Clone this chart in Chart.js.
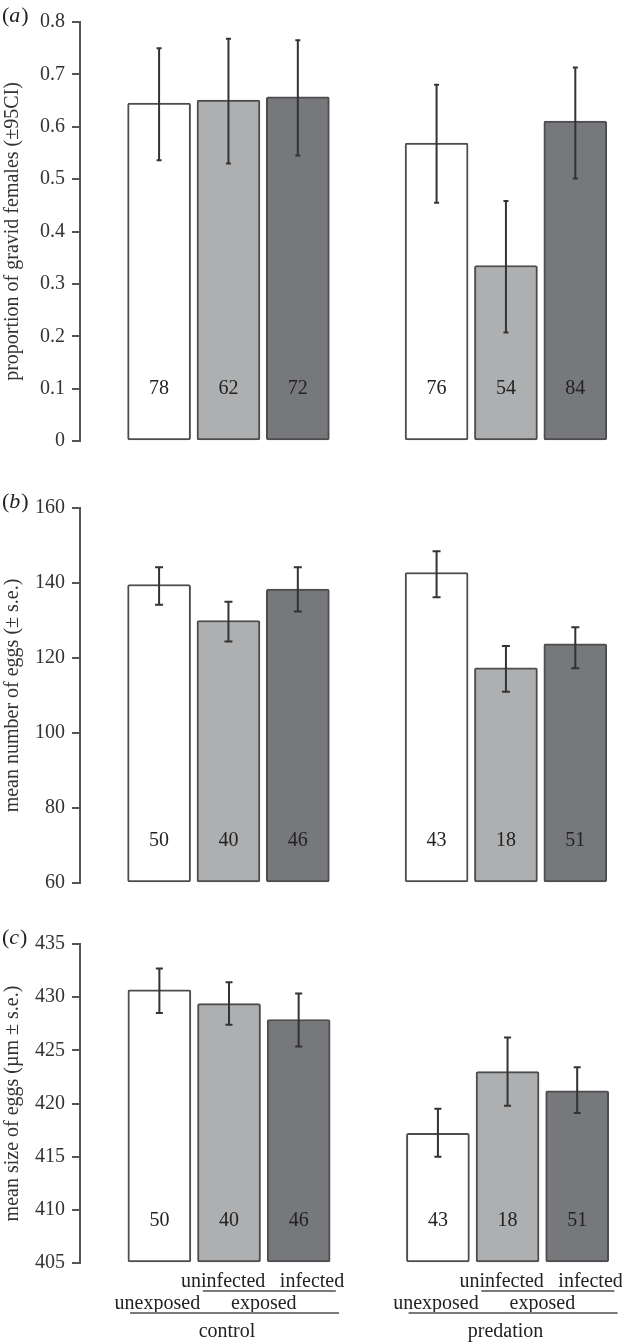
<!DOCTYPE html>
<html>
<head>
<meta charset="utf-8">
<script src="https://cdn.jsdelivr.net/npm/chart.js@4/dist/chart.umd.min.js"></script>
<style>
  body { margin: 0; background: #fff; }
  canvas { display: block; }
</style>
</head>
<body>
<canvas id="panel-a" width="622" height="460"></canvas>
<canvas id="panel-b" width="622" height="442"></canvas>
<canvas id="panel-c" width="622" height="440"></canvas>
<script>
const groups = ["control", "predation"];
const treatments = ["unexposed", "uninfected", "infected"];

// (a) proportion of gravid females, 95% CI
const gravidMean = [0.645, 0.651, 0.657, 0.569, 0.335, 0.611];
const gravidLow = [0.536, 0.530, 0.545, 0.455, 0.207, 0.501];
const gravidHigh = [0.750, 0.768, 0.765, 0.680, 0.458, 0.713];
const gravidN = [78, 62, 72, 76, 54, 84];

// (b) mean number of eggs, s.e.
const eggsMean = [139.6, 130.0, 138.4, 142.8, 117.4, 123.8];
const eggsLow = [134.2, 124.4, 132.4, 136.2, 111.0, 117.3];
const eggsHigh = [144.2, 135.0, 144.2, 148.5, 123.2, 128.2];
const eggsN = [50, 40, 46, 43, 18, 51];

// (c) mean size of eggs, s.e.
const sizeMean = [430.7, 429.4, 427.9, 417.2, 423.0, 421.2];
const sizeLow = [428.5, 427.4, 425.35, 415.0, 419.8, 419.1];
const sizeHigh = [432.7, 431.4, 430.35, 419.5, 426.2, 423.4];
const sizeN = [50, 40, 46, 43, 18, 51];

const fills = ["#ffffff", "#aeafb1", "#77787c"];
const serif = "'Liberation Serif', 'DejaVu Serif', serif";

// one empty slot between the two groups
const xPos = [];
groups.forEach((g, gi) => treatments.forEach((t, ti) => xPos.push(gi * 4 + ti)));

const decor = {
  id: "decor",
  afterDatasetsDraw(chart, args, opts) {
    const { ctx, chartArea, scales: { x, y } } = chart;
    ctx.save();

    // error bars
    ctx.strokeStyle = "#333";
    ctx.lineWidth = 2;
    opts.low.forEach((lo, i) => {
      const px = x.getPixelForValue(xPos[i]);
      const y1 = y.getPixelForValue(lo);
      const y2 = y.getPixelForValue(opts.high[i]);
      ctx.beginPath();
      ctx.moveTo(px, y1); ctx.lineTo(px, y2);
      ctx.moveTo(px - opts.cap, y1); ctx.lineTo(px + opts.cap, y1);
      ctx.moveTo(px - opts.cap, y2); ctx.lineTo(px + opts.cap, y2);
      ctx.stroke();
    });

    // sample sizes
    ctx.fillStyle = "#222";
    ctx.font = "20px " + serif;
    ctx.textAlign = "center";
    ctx.textBaseline = "middle";
    opts.n.forEach((n, i) => {
      ctx.fillText(String(n), x.getPixelForValue(xPos[i]), y.getPixelForValue(opts.nAt));
    });

    // panel tag "(a)"
    ctx.textAlign = "left";
    let tx = 2;
    const ty = chartArea.top - 6;
    ctx.font = "22px " + serif;
    ctx.fillText("(", tx, ty);
    tx += ctx.measureText("(").width;
    ctx.font = "italic 22px " + serif;
    ctx.fillText(opts.tag, tx, ty);
    tx += ctx.measureText(opts.tag).width + 1;
    ctx.font = "22px " + serif;
    ctx.fillText(")", tx, ty);

    // treatment / group labels under the last panel
    if (opts.groupLabels) {
      const base = chartArea.bottom;
      ctx.font = "20px " + serif;
      ctx.strokeStyle = "#7a7a7a";
      ctx.lineWidth = 2;
      groups.forEach((g, gi) => {
        const first = x.getPixelForValue(gi * 4);
        const pair = (x.getPixelForValue(gi * 4 + 1) + x.getPixelForValue(gi * 4 + 2)) / 2;
        const mid = (first + x.getPixelForValue(gi * 4 + 2)) / 2;

        ctx.textAlign = "right";
        ctx.fillText(treatments[1], pair + 1.5, base + 19);
        ctx.textAlign = "left";
        ctx.fillText(treatments[2], pair + 16, base + 19);
        ctx.beginPath();
        ctx.moveTo(pair - 61, base + 28); ctx.lineTo(pair + 72, base + 28);
        ctx.stroke();

        ctx.textAlign = "center";
        ctx.fillText(treatments[0], first - 2, base + 41);
        ctx.fillText("exposed", pair, base + 41);
        ctx.beginPath();
        ctx.moveTo(mid - 99, base + 50); ctx.lineTo(mid + 110, base + 50);
        ctx.stroke();

        ctx.fillText(g, mid - 2, base + 69);
      });
    }
    ctx.restore();
  }
};

function makePanel(id, tag, title, mean, low, high, n, yMin, yMax, step, nAt, cap, padding, groupLabels) {
  new Chart(document.getElementById(id), {
    type: "bar",
    data: {
      datasets: [
        {
          data: mean.map((v, i) => ({ x: xPos[i], y: v })),
          base: yMin,
          backgroundColor: mean.map((v, i) => fills[i % 3]),
          borderColor: "#4d4d4d",
          borderWidth: 2,
          borderSkipped: false,
          borderRadius: 2,
          barThickness: 63,
          clip: false,
        },
      ],
    },
    options: {
      responsive: false,
      animation: false,
      events: [],
      layout: { padding },
      plugins: {
        legend: { display: false },
        tooltip: { enabled: false },
        decor: { tag, low, high, n, nAt, cap, groupLabels },
      },
      scales: {
        x: {
          type: "linear",
          display: false,
          offset: false,
          min: -1.14,
          max: 6.5,
        },
        y: {
          min: yMin,
          max: yMax,
          afterFit: (s) => { s.width = 80; },
          border: { display: true, color: "#555", width: 2 },
          grid: {
            drawOnChartArea: false,
            drawTicks: true,
            tickLength: 8,
            color: "#555",
            lineWidth: 2,
          },
          ticks: {
            stepSize: step,
            padding: 7,
            color: "#333",
            font: { family: serif, size: 20 },
          },
          title: {
            display: true,
            text: title,
            color: "#333",
            padding: { top: 1, bottom: 0 },
            font: { family: serif, size: 20 },
          },
        },
      },
    },
    plugins: [decor],
  });
}

makePanel("panel-a", "a", "proportion of gravid females (±95CI)",
  gravidMean, gravidLow, gravidHigh, gravidN, 0, 0.8, 0.1, 0.1, 2.5,
  { top: 22, bottom: 14, left: 0, right: 12 }, false);

makePanel("panel-b", "b", "mean number of eggs (± s.e.)",
  eggsMean, eggsLow, eggsHigh, eggsN, 60, 160, 20, 71.2, 4,
  { top: 48, bottom: 13, left: 0, right: 12 }, false);

makePanel("panel-c", "c", "mean size of eggs (µm ± s.e.)",
  sizeMean, sizeLow, sizeHigh, sizeN, 405, 435, 5, 409, 3.5,
  { top: 42, bottom: 79, left: 0, right: 10 }, true);
</script>
</body>
</html>
